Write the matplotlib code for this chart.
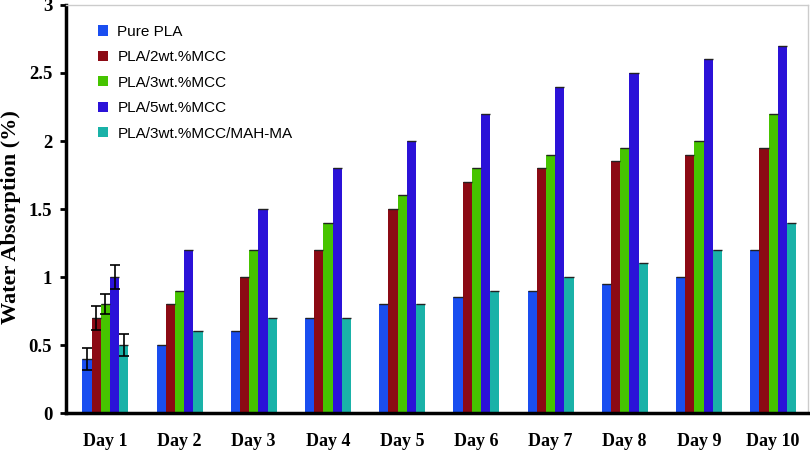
import matplotlib
matplotlib.use("Agg")
import matplotlib.pyplot as plt
import numpy as np

days = ["Day 1", "Day 2", "Day 3", "Day 4", "Day 5", "Day 6", "Day 7", "Day 8", "Day 9", "Day 10"]
series_names = ["Pure PLA", "PLA/2wt.%MCC", "PLA/3wt.%MCC", "PLA/5wt.%MCC", "PLA/3wt.%MCC/MAH-MA"]
pure_pla = [0.4, 0.5, 0.6, 0.7, 0.8, 0.85, 0.9, 0.95, 1.0, 1.2]
mcc2 = [0.7, 0.8, 1.0, 1.2, 1.5, 1.7, 1.8, 1.85, 1.9, 1.95]
mcc3 = [0.8, 0.9, 1.2, 1.4, 1.6, 1.8, 1.9, 1.95, 2.0, 2.2]
mcc5 = [1.0, 1.2, 1.5, 1.8, 2.0, 2.2, 2.4, 2.5, 2.6, 2.7]
mcc3_mah = [0.5, 0.6, 0.7, 0.7, 0.8, 0.9, 1.0, 1.1, 1.2, 1.4]
# error bars on Day 1 only
day1_err = [0.08, 0.09, 0.075, 0.085, 0.08]
yticks = [0, 0.5, 1, 1.5, 2, 2.5, 3]
ytick_labels = ["0", "0.5", "1", "1.5", "2", "2.5", "3"]

colors = ["#1a4ef0", "#8c0a14", "#46c400", "#2b12d8", "#1ab2a8"]
all_series = [pure_pla, mcc2, mcc3, mcc5, mcc3_mah]

fig = plt.figure(figsize=(8.1, 4.5), dpi=100)
ax = fig.add_axes([0.0815, 0.082, 0.916, 0.907])

x = np.arange(len(days))
w = 0.124
for i, (vals, c, name) in enumerate(zip(all_series, colors, series_names)):
    pos = x + (i - 2) * w
    ax.bar(pos, vals, width=w, color=c, label=name, zorder=2)
    # thin dark top edge
    ax.hlines(vals, pos - w / 2, pos + w / 2, colors="#222222", linewidth=1.0, zorder=3)
    ax.errorbar(pos[0], vals[0], yerr=day1_err[i], fmt="none", ecolor="black",
                elinewidth=1.2, capsize=3.4, capthick=1.2, zorder=4)

ax.set_xlim(-0.53, 9.47)
ax.set_ylim(0, 3)
ax.set_yticks(yticks)
ax.set_yticklabels(ytick_labels, fontfamily="Liberation Serif", fontweight="bold", fontsize=13.5)
ax.set_xticks(x)
ax.set_xticklabels(days, fontfamily="Liberation Serif", fontweight="bold", fontsize=13)
ax.tick_params(axis="x", length=0, pad=14)
ax.tick_params(axis="y", length=4, width=2, direction="out", pad=6)
fig.text(11 / 810, 1 - 217 / 450, "Water Absorption (%)", rotation=90, ha="center", va="center",
         fontfamily="Liberation Serif", fontweight="bold", fontsize=16)

for s in ["left", "bottom"]:
    ax.spines[s].set_linewidth(2.5)
    ax.spines[s].set_color("black")
for s in ["top", "right"]:
    ax.spines[s].set_linewidth(1.0)
    ax.spines[s].set_color("#cccccc")

leg = ax.legend(loc="upper left", bbox_to_anchor=(0.025, 0.985), frameon=False,
                prop={"family": "Liberation Sans", "size": 11}, handlelength=0.65,
                handleheight=0.65, handletextpad=0.6, labelspacing=0.75)

fig.savefig("out.png", dpi=100)
